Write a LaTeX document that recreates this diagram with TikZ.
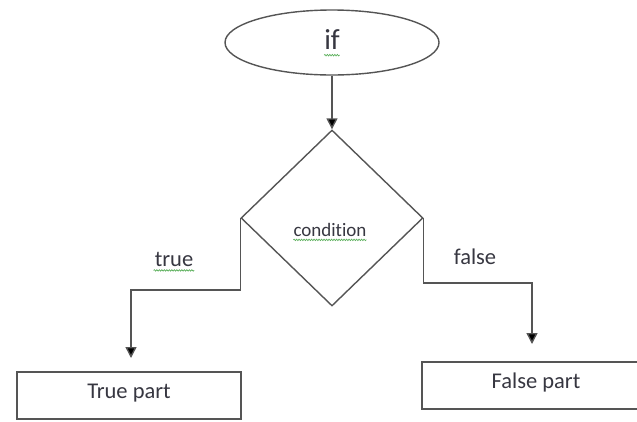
\documentclass[tikz,border=0pt]{standalone}
\usepackage{fontspec}
\setmainfont[Ligatures=NoCommon]{Carlito}
\usetikzlibrary{shapes.geometric,arrows.meta,decorations.pathmorphing}
\definecolor{txt}{RGB}{55,55,65}
\definecolor{ln}{RGB}{85,85,85}
\definecolor{sq}{RGB}{80,170,80}
\tikzset{
  shapeline/.style={draw=ln,line width=1.4pt},
  lbl/.style={text=txt,font=\fontsize{22.5}{26}\selectfont,inner sep=0pt},
  arr/.style={draw=ln,line width=1.4pt,-{Triangle[length=11pt,width=11pt,fill=black]}},
  squig/.style={draw=sq,line width=0.6pt,decorate,decoration={snake,segment length=2.5pt,amplitude=0.8pt}}
}
\begin{document}
\begin{tikzpicture}[x=1pt,y=-1pt]
\useasboundingbox (0,0) rectangle (637,421);
\clip (0,0) rectangle (637,421);
\fill[white] (0,0) rectangle (637,421);
% nodes
\node[shapeline,ellipse,minimum width=214pt,minimum height=65pt,inner sep=0pt] (ifn) at (332,42.5) {};
\node[text=txt,font=\fontsize{29}{32}\selectfont,inner sep=0pt] (iftext) at (332,40) {if};
\node[shapeline,diamond,minimum width=182pt,minimum height=176pt,inner sep=0pt] (dia) at (332,218) {};
\node[text=txt,font=\fontsize{19}{22}\selectfont,inner sep=0pt] (condtext) at (330,230) {condition};
\node[shapeline,rectangle,minimum width=224pt,minimum height=47pt,inner sep=0pt] (tbox) at (129,395.5) {};
\node[lbl] (ttext) at (129,393) {True part};
\node[shapeline,rectangle,minimum width=228pt,minimum height=47pt,inner sep=0pt] (fbox) at (536,385.5) {};
\node[lbl] (ftext) at (536,382) {False part};
\node[lbl] (truelbl) at (174,259) {true};
\node[lbl] (falselbl) at (475,257) {false};
% spell-check squiggles
\draw[squig] ([yshift=-5pt]iftext.south west) -- ([yshift=-5pt]iftext.south east);
\draw[squig] ([yshift=-4pt,xshift=-1pt]truelbl.south west) -- ([yshift=-4pt,xshift=1pt]truelbl.south east);
\draw[squig] ([yshift=-3pt]condtext.south west) -- ([yshift=-3pt]condtext.south east);
% connectors
\coordinate (tbend) at (131,290);
\coordinate (ttip) at (131,358);
\coordinate (fbend) at (532,283);
\coordinate (ftip) at (532,344);
\draw[arr] (ifn.south) -- (dia.north);
\draw[arr] (dia.west) |- (tbend) -- (ttip);
\draw[arr] (dia.east) |- (fbend) -- (ftip);
\end{tikzpicture}
\end{document}
